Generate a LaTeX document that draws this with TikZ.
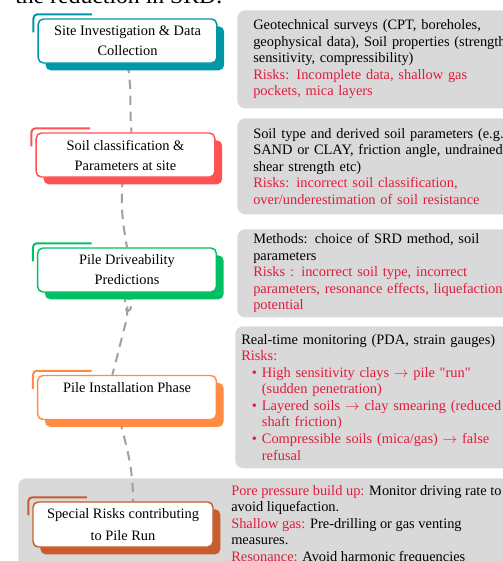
\documentclass[tikz,border=0pt]{standalone}
\usepackage{fontspec}
\setmainfont{Liberation Serif}
\newfontfamily\plainquote[Ligatures=TeXOff]{Liberation Serif}
\usetikzlibrary{shadows}

\definecolor{siteteal}{RGB}{0,151,167}
\definecolor{soilred}{RGB}{255,82,82}
\definecolor{drivegreen}{RGB}{0,192,99}
\definecolor{installorange}{RGB}{255,140,66}
\definecolor{specialrust}{RGB}{200,92,44}
\definecolor{panelgray}{RGB}{217,217,217}
\definecolor{riskred}{RGB}{226,27,60}
\definecolor{trailgray}{RGB}{160,160,160}

\pgfdeclarelayer{back}
\pgfdeclarelayer{trail}
\pgfsetlayers{back,trail,main}

\newcommand*{\risk}[1]{\textcolor{riskred}{#1}}
\newcommand*{\riskbullet}{\hspace*{8pt}\makebox[7.5pt][l]{•}}
\newcommand*{\riskindent}{\hspace*{15.5pt}}
\newcommand*{\dq}{{\plainquote"}}
\newcommand*{\riskto}{$\rightarrow$}

\tikzset{
  stage/.style={draw=#1, fill=white, line width=1.1pt, rounded corners=4pt,
    minimum width=134pt, minimum height=33pt, align=center,
    font=\fontsize{10.8}{15}\selectfont,
    drop shadow={shadow xshift=5.5pt, shadow yshift=-5.5pt, fill=#1, opacity=1}},
  note/.style={fill=panelgray, rounded corners=6pt, anchor=north west,
    text width=230pt, inner xsep=12pt, align=left,
    font=\fontsize{10.8}{12.4}\selectfont},
  trail/.style={draw=trailgray, line width=1.5pt, dash pattern=on 7pt off 5pt}
}

\begin{document}
\begin{tikzpicture}[x=0.75pt, y=-0.75pt]
  \useasboundingbox (0,0) rectangle (503,561);

  \node[anchor=base west, inner sep=0pt, font=\fontsize{17.8}{20}\selectfont] (lead) at (15,3) {the reduction in SRD.};

  \node[stage=siteteal] (site) at (127.5,41) {Site Investigation \& Data\\Collection};
  \node[stage=soilred] (soil) at (125.5,155) {Soil classification \&\\Parameters at site};
  \node[stage=drivegreen] (drive) at (127,270) {Pile Driveability\\Predictions};
  \node[stage=installorange] (install) at (127,397.5) {Pile Installation Phase\\\mbox{}};
  \node[stage=specialrust, minimum width=135pt, minimum height=33.75pt,
    font=\fontsize{10.8}{16.5}\selectfont] (special) at (123,524.5) {Special Risks contributing\\to Pile Run};

  \foreach \s/\c in {site/siteteal, soil/soilred, drive/drivegreen, install/installorange, special/specialrust}
  {
    \draw[\c, line width=1.5pt, rounded corners=3pt]
      ([xshift=-3pt, yshift=-10.5pt]\s.north west) |- ([xshift=41pt, yshift=3pt]\s.north west);
  }

  \begin{pgfonlayer}{back}
    \node[note, minimum height=73.5pt] (sitenote) at (237,10) {%
      Geotechnical surveys (CPT, boreholes,\\
      geophysical data), Soil properties (strength,\\
      sensitivity, compressibility)\\
      \risk{Risks: Incomplete data, shallow gas}\\
      \risk{pockets, mica layers}};
    \node[note, minimum height=72pt] (soilnote) at (237,118) {%
      Soil type and derived soil parameters (e.g.,\\
      SAND or CLAY, friction angle, undrained\\
      shear strength etc)\\
      \risk{Risks: incorrect soil classification,}\\
      \risk{over/underestimation of soil resistance}};
    \node[note, minimum height=66pt] (drivenote) at (237,229) {%
      Methods: choice of SRD method, soil\\
      parameters\\
      \risk{Risks : incorrect soil type, incorrect}\\
      \risk{parameters, resonance effects, liquefaction}\\
      \risk{potential}};
    \node[note, minimum height=106.5pt, inner xsep=4.5pt] (installnote) at (235,326) {%
      Real-time monitoring (PDA, strain gauges)\\
      \risk{Risks:}\\
      \risk{\riskbullet High sensitivity clays \riskto{} pile \dq run\dq}\\
      \risk{\riskindent(sudden penetration)}\\
      \risk{\riskbullet Layered soils \riskto{} clay smearing (reduced}\\
      \risk{\riskindent shaft friction)}\\
      \risk{\riskbullet Compressible soils (mica/gas) \riskto{} false}\\
      \risk{\riskindent refusal}};
    \node[fill=panelgray, rounded corners=6pt, anchor=north west,
      minimum width=400pt, minimum height=80pt] (specialband) at (18,478) {};
    \node[anchor=north west, inner sep=0pt, align=left,
      font=\fontsize{10.8}{12.4}\selectfont] (specialnote) at (231,485) {%
      \risk{Pore pressure build up:} Monitor driving rate to\\
      avoid liquefaction.\\
      \risk{Shallow gas:} Pre-drilling or gas venting\\
      measures.\\
      \risk{Resonance:} Avoid harmonic frequencies};
  \end{pgfonlayer}

  \begin{pgfonlayer}{trail}
    \draw[trail] (site.south) to[out=-80, in=95] ([xshift=4.5pt]soil.north);
    \draw[trail] ([xshift=-2pt]soil.south) to[out=-95, in=100] (drive.north);
    \draw[trail] ([xshift=-1.5pt]drive.south) .. controls (125,305) and (125,311) .. (128,311)
      .. controls (131,311) and (133,303) .. (131,297)
      .. controls (129,292) and (127,300) .. (127,318)
      to[out=-105, in=75] ([xshift=-11pt]install.north);
    \draw[trail] ([xshift=-5.5pt]install.south) to[out=-75, in=90] ([xshift=7.5pt]special.north);
  \end{pgfonlayer}
\end{tikzpicture}
\end{document}
